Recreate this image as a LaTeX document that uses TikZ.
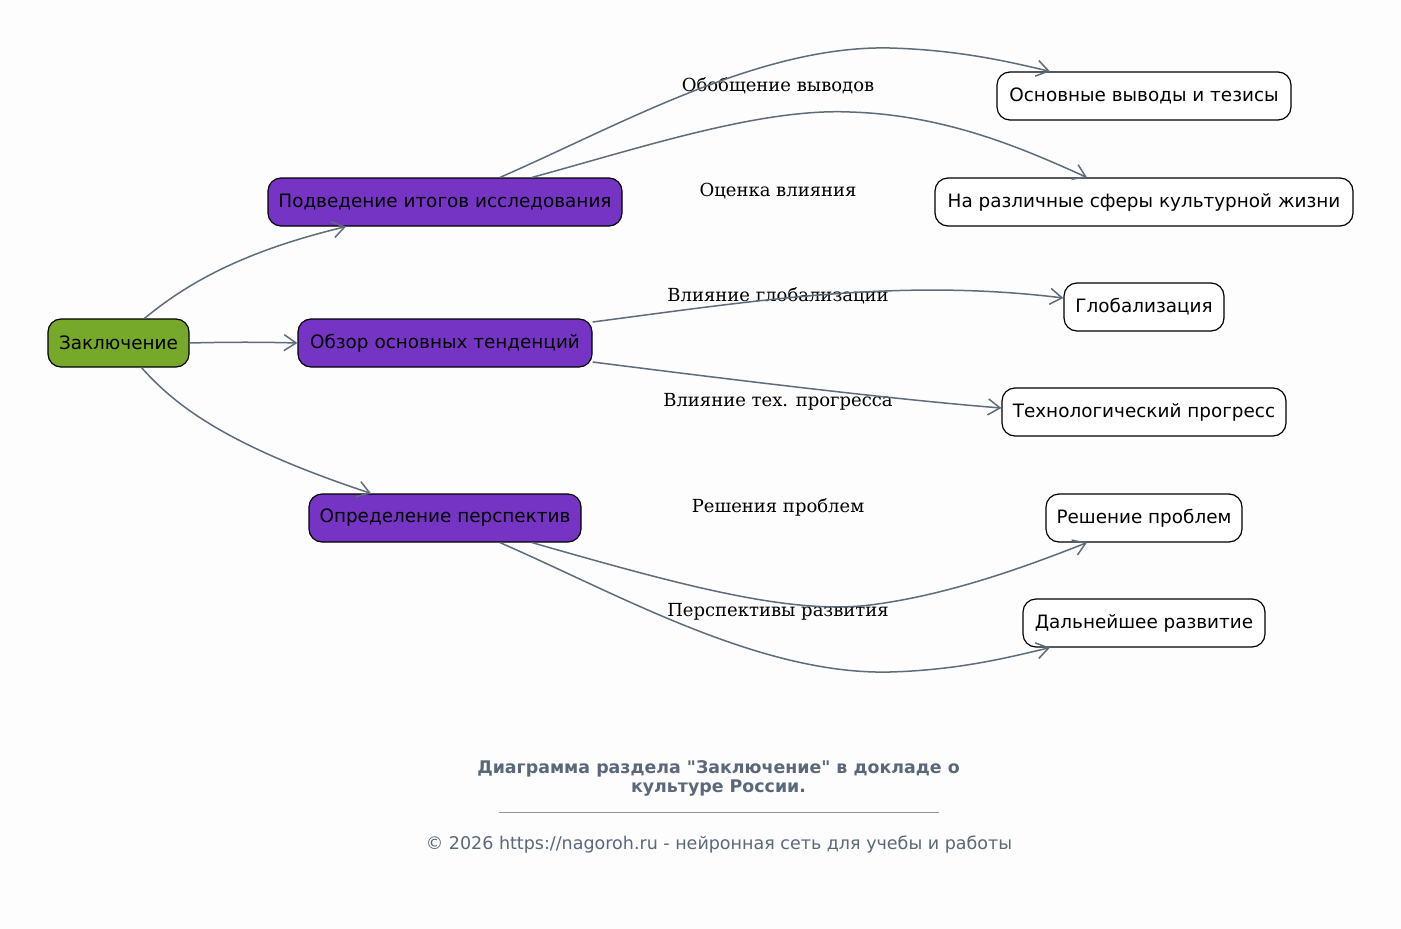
\documentclass[tikz,border=0pt]{standalone}
\usepackage{fontspec}
\setmainfont{DejaVu Sans}[Ligatures=TeXOff]
\newfontfamily\lblfont{DejaVu Serif}[Ligatures=TeXOff]
\usetikzlibrary{arrows.meta}
\definecolor{bgc}{RGB}{253,253,253}
\definecolor{rootc}{RGB}{118,168,42}
\definecolor{midc}{RGB}{117,52,196}
\definecolor{edgec}{RGB}{95,108,122}
\definecolor{footc}{RGB}{90,104,122}
\begin{document}
\begin{tikzpicture}[x=1pt,y=-1pt,
  box/.style={draw=black,line width=1.2pt,rounded corners=13pt,minimum height=48pt,inner xsep=0pt,font=\fontsize{18.4}{20}\selectfont,text=black},
  rootbox/.style={box,fill=rootc},
  midbox/.style={box,fill=midc},
  leafbox/.style={box,fill=white},
  elbl/.style={font=\lblfont\fontsize{18}{20}\selectfont,text=black},
  conn/.style={draw=edgec,line width=1.5pt,-{Straight Barb[length=12pt,width=16pt,line width=1.5pt]}}]
\fill[bgc] (0,0) rectangle (1401,929);
\useasboundingbox (0,0) rectangle (1401,929);
% nodes
\node[rootbox,minimum width=141pt] (root) at (118.5,343) {Заключение};
\node[midbox,minimum width=354pt] (sum) at (445,202) {Подведение итогов исследования};
\node[midbox,minimum width=294pt] (rev) at (445,343) {Обзор основных тенденций};
\node[midbox,minimum width=272pt] (per) at (445,518) {Определение перспектив};
\node[leafbox,minimum width=294pt] (l1) at (1144,96) {Основные выводы и тезисы};
\node[leafbox,minimum width=418pt] (l2) at (1144,202) {На различные сферы культурной жизни};
\node[leafbox,minimum width=160pt] (l3) at (1144,307) {Глобализация};
\node[leafbox,minimum width=284pt] (l4) at (1144,412) {Технологический прогресс};
\node[leafbox,minimum width=196pt] (l5) at (1144,518) {Решение проблем};
\node[leafbox,minimum width=242pt] (l6) at (1144,623) {Дальнейшее развитие};
% edge labels
\node[elbl] (e1) at (778,86) {Обобщение выводов};
\node[elbl] (e2) at (778,191) {Оценка влияния};
\node[elbl] (e3) at (778,296) {Влияние глобализации};
\node[elbl] (e4) at (778,402) {Влияние тех. прогресса};
\node[elbl] (e5) at (778,507) {Решения проблем};
\node[elbl] (e6) at (778,612) {Перспективы развития};
% edges
\draw[conn] ([xshift=26pt]root.north) .. controls (185,285) and (240,252) .. ([xshift=-99pt]sum.south);
\draw[conn] (root.east) .. controls (230,342) and (260,342) .. (rev.west);
\draw[conn] ([xshift=23pt]root.south) .. controls (175,405) and (225,445) .. ([xshift=-74pt]per.north);
\draw[conn] ([xshift=55pt]sum.north) .. controls (620,125) and (760,45) .. (890,48) .. controls (960,50) and (1010,62) .. ([xshift=-94pt]l1.north);
\draw[conn] ([xshift=87pt]sum.north) .. controls (640,148) and (760,108) .. (850,112) .. controls (950,115) and (1030,152) .. ([xshift=-57pt]l2.north);
\draw[conn] ([yshift=21pt]rev.east) .. controls (760,300) and (900,278) .. ([yshift=9pt]l3.west);
\draw[conn] ([yshift=-19pt]rev.east) .. controls (750,382) and (900,400) .. ([yshift=4pt]l4.west);
\draw[conn] ([xshift=87pt]per.south) .. controls (680,585) and (790,615) .. (870,605) .. controls (950,595) and (1030,565) .. ([xshift=-57pt]l5.south);
\draw[conn] ([xshift=55pt]per.south) .. controls (620,595) and (760,675) .. (890,672) .. controls (960,670) and (1010,657) .. ([xshift=-94pt]l6.south);
% footer
\node[font=\bfseries\fontsize{17.4}{19}\selectfont,text=footc,align=center] (title) at (718.5,778) {Диаграмма раздела "Заключение" в докладе о\\культуре России.};
\coordinate (rl) at (499,812);
\coordinate (rr) at (939,812);
\draw[footc!70,line width=0.6pt] (rl) -- (rr);
\node[font=\fontsize{17.5}{18}\selectfont,text=footc] (copy) at (719,845) {© 2026 https://nagoroh.ru - нейронная сеть для учебы и работы};
\end{tikzpicture}
\end{document}
